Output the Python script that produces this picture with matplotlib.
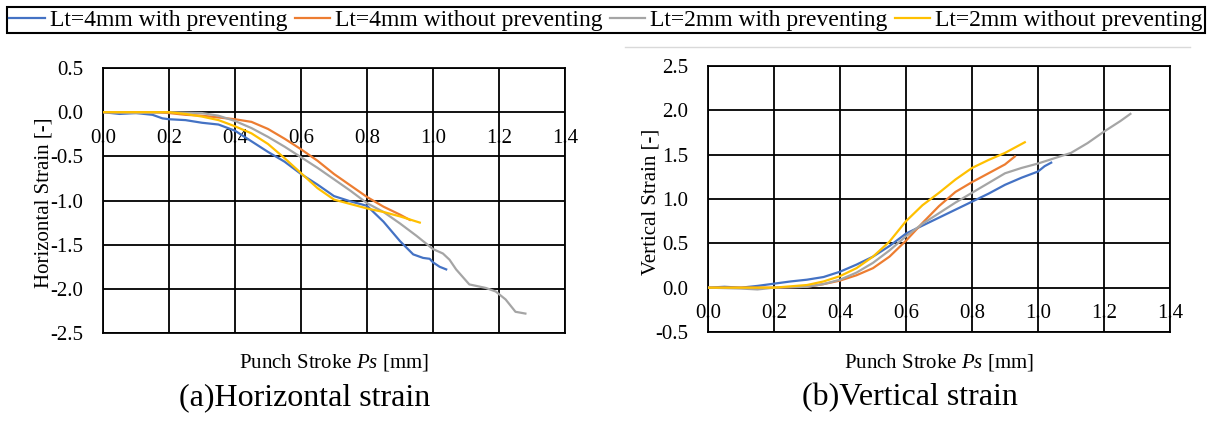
import matplotlib
matplotlib.use("Agg")
import matplotlib.pyplot as plt
from matplotlib import transforms
from matplotlib.lines import Line2D

plt.rcParams["font.family"] = ["Liberation Serif", "DejaVu Serif"]
plt.rcParams["mathtext.fontset"] = "custom"
plt.rcParams["mathtext.rm"] = "Liberation Serif"
plt.rcParams["mathtext.it"] = "Liberation Serif:italic"
plt.rcParams["axes.unicode_minus"] = False

labels = ["Lt=4mm with preventing", "Lt=4mm without preventing",
          "Lt=2mm with preventing", "Lt=2mm without preventing"]
colors = ["#4472C4", "#ED7D31", "#A5A5A5", "#FFC000"]
x_ticks = [0.0, 0.2, 0.4, 0.6, 0.8, 1.0, 1.2, 1.4]
h_yticks = [-2.5, -2.0, -1.5, -1.0, -0.5, 0.0, 0.5]
v_yticks = [-0.5, 0.0, 0.5, 1.0, 1.5, 2.0, 2.5]

# (a) horizontal strain
h_x_4w = [0, 0.05, 0.10, 0.15, 0.18, 0.20, 0.25, 0.30, 0.35, 0.40, 0.45, 0.50, 0.55,
          0.60, 0.65, 0.70, 0.75, 0.80, 0.85, 0.90, 0.94, 0.97, 0.99, 1.00, 1.02, 1.04]
h_y_4w = [0, -0.02, -0.01, -0.03, -0.07, -0.08, -0.09, -0.12, -0.14, -0.21, -0.33, -0.45,
          -0.56, -0.70, -0.82, -0.95, -1.01, -1.06, -1.24, -1.46, -1.61, -1.65, -1.66,
          -1.70, -1.75, -1.78]
h_x_4wo = [0, 0.05, 0.10, 0.15, 0.20, 0.25, 0.30, 0.35, 0.40, 0.45, 0.50, 0.55, 0.60,
           0.65, 0.70, 0.75, 0.80, 0.85, 0.90, 0.93]
h_y_4wo = [0, 0, 0, 0, -0.01, -0.03, -0.04, -0.06, -0.08, -0.11, -0.19, -0.30, -0.42,
           -0.55, -0.70, -0.83, -0.96, -1.07, -1.16, -1.22]
h_x_2w = [0, 0.10, 0.20, 0.30, 0.35, 0.40, 0.45, 0.50, 0.55, 0.60, 0.65, 0.70, 0.75,
          0.80, 0.85, 0.90, 0.95, 1.00, 1.03, 1.05, 1.07, 1.11, 1.16, 1.19, 1.22, 1.25, 1.28]
h_y_2w = [0, -0.01, 0, -0.01, -0.04, -0.10, -0.18, -0.28, -0.39, -0.51, -0.63, -0.76,
          -0.89, -1.03, -1.13, -1.26, -1.40, -1.55, -1.60, -1.67, -1.78, -1.95, -1.99,
          -2.03, -2.12, -2.26, -2.28]
h_x_2wo = [0, 0.10, 0.20, 0.25, 0.30, 0.35, 0.40, 0.45, 0.50, 0.55, 0.60, 0.65, 0.70,
           0.75, 0.80, 0.85, 0.90, 0.96]
h_y_2wo = [0, 0, 0, -0.02, -0.05, -0.09, -0.16, -0.24, -0.36, -0.52, -0.69, -0.86,
           -0.99, -1.04, -1.09, -1.13, -1.18, -1.25]

# (b) vertical strain
v_x_4w = [0, 0.05, 0.10, 0.15, 0.20, 0.25, 0.30, 0.35, 0.40, 0.45, 0.50, 0.55, 0.60,
          0.65, 0.70, 0.75, 0.80, 0.85, 0.90, 0.95, 1.00, 1.02, 1.04]
v_y_4w = [0, 0.01, 0.0, 0.02, 0.045, 0.07, 0.09, 0.12, 0.18, 0.26, 0.35, 0.47, 0.61,
          0.70, 0.79, 0.88, 0.97, 1.06, 1.16, 1.24, 1.31, 1.37, 1.41]
v_x_4wo = [0, 0.10, 0.20, 0.30, 0.35, 0.40, 0.45, 0.50, 0.55, 0.60, 0.65, 0.70, 0.75,
           0.80, 0.85, 0.90, 0.93]
v_y_4wo = [0, 0, 0, 0.01, 0.04, 0.08, 0.14, 0.22, 0.35, 0.53, 0.73, 0.92, 1.08, 1.19,
           1.29, 1.39, 1.48]
v_x_2w = [0, 0.10, 0.15, 0.20, 0.30, 0.35, 0.40, 0.45, 0.50, 0.55, 0.60, 0.65, 0.70,
          0.75, 0.80, 0.85, 0.90, 0.95, 1.00, 1.05, 1.10, 1.15, 1.20, 1.25, 1.28]
v_y_2w = [0, -0.01, -0.02, 0, 0.01, 0.04, 0.09, 0.17, 0.28, 0.42, 0.58, 0.72, 0.84,
          0.96, 1.07, 1.18, 1.29, 1.35, 1.40, 1.46, 1.52, 1.63, 1.76, 1.88, 1.96]
v_x_2wo = [0, 0.10, 0.20, 0.30, 0.35, 0.40, 0.45, 0.50, 0.55, 0.60, 0.65, 0.70, 0.75,
           0.80, 0.85, 0.90, 0.96]
v_y_2wo = [0, 0, 0, 0.03, 0.07, 0.13, 0.22, 0.35, 0.52, 0.75, 0.93, 1.07, 1.22, 1.35,
           1.44, 1.52, 1.64]

fig = plt.figure(figsize=(12.1, 4.22), dpi=100)
ax1 = fig.add_axes([103 / 1210, 1 - 333 / 422, 462 / 1210, 265 / 422])
ax2 = fig.add_axes([708 / 1210, 1 - 332 / 422, 462 / 1210, 266 / 422])


def draw_panel(ax, series, yticks, ylabel, ylab_x, xlab_y):
    lines = []
    for (x, y), c in zip(series, colors):
        ln, = ax.plot(x, y, color=c, lw=1.6, zorder=3)
        lines.append(ln)
    ax.set_xlim(0, 1.4)
    ax.set_ylim(yticks[0], yticks[-1])
    ax.set_xticks(x_ticks)
    ax.set_yticks(yticks)
    ax.set_yticklabels([f"{v:.1f}" for v in yticks])
    ax.tick_params(axis="x", length=0, labelbottom=False)
    ax.tick_params(axis="y", length=0, pad=14, labelsize=15)
    ax.grid(True, color="black", lw=1.3)
    ax.set_axisbelow("line")
    for s in ax.spines.values():
        s.set_color("black")
        s.set_linewidth(1.3)
    # x tick labels sit under the zero line, grid drawn over them
    off = transforms.offset_copy(ax.transData, fig=fig, y=-26, units="dots")
    for t in x_ticks:
        ax.text(t, 0, f"{t:.1f}", transform=off, ha="center", va="center",
                fontsize=15, zorder=1)
    ax.set_ylabel(ylabel, fontsize=15)
    ax.yaxis.set_label_coords(ylab_x, 0.49)
    ax.set_xlabel("Punch Stroke $Ps$ [mm]", fontsize=15, va="baseline")
    ax.xaxis.set_label_coords(0.5, xlab_y)
    return lines


handles = draw_panel(ax1, [(h_x_4w, h_y_4w), (h_x_4wo, h_y_4wo), (h_x_2w, h_y_2w),
                           (h_x_2wo, h_y_2wo)], h_yticks, "Horizontal Strain [-]",
                     -0.107, -0.132)
draw_panel(ax2, [(v_x_4w, v_y_4w), (v_x_4wo, v_y_4wo), (v_x_2w, v_y_2w),
                 (v_x_2wo, v_y_2wo)], v_yticks, "Vertical Strain [-]", -0.102, -0.135)

fig.text(305 / 1210, 1 - 405 / 422, "(a)Horizontal strain", ha="center",
         va="baseline", fontsize=23)
fig.text(910 / 1210, 1 - 405 / 422, "(b)Vertical strain", ha="center",
         va="baseline", fontsize=23)

leg = fig.legend(handles, labels, loc="upper left", ncol=4, mode="expand",
                 bbox_to_anchor=(7 / 1210, 1 - 7 / 422, 1198 / 1210, 0),
                 borderaxespad=0, fontsize=17, handlelength=1.5, handletextpad=0.2,
                 borderpad=0.1, fancybox=False, edgecolor="black", framealpha=1)
leg.get_frame().set_linewidth(1.5)

fig.add_artist(Line2D([625 / 1210, 1190 / 1210], [1 - 47 / 422, 1 - 47 / 422],
                      color="#d9d9d9", lw=1, transform=fig.transFigure))

fig.savefig("out.png", dpi=100)
